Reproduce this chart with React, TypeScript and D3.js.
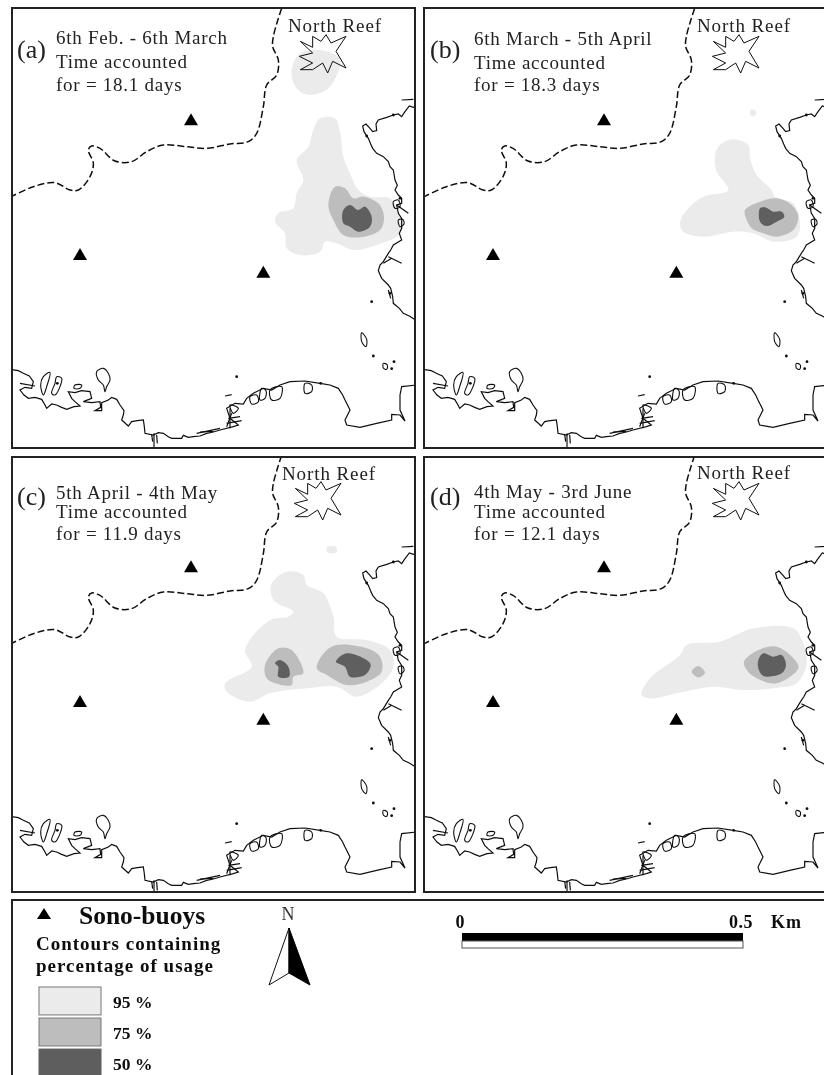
import React, { useEffect, useRef } from 'react';
import * as d3 from 'd3';

type Pt = [number, number];

// map outlines, in map units (3 units = 1 px in panel a)
const boundary: Pt[] = [[845,25],[832,65],[820,110],[818,140],[835,180],[830,225],[800,255],[790,320],[770,400],[745,425],[690,432],[620,445],[560,440],[490,435],[440,455],[395,485],[345,483],[300,445],[275,438],[265,450],[280,490],[270,530],[235,570],[210,570],[165,548],[100,560],[30,592]];
const eastCoast: Pt[] = [[1250,318],[1240,322],[1228,318],[1215,335],[1205,350],[1195,342],[1180,345],[1160,352],[1135,360],[1128,372],[1130,392],[1118,395],[1110,385],[1098,372],[1088,378],[1092,395],[1105,415],[1112,432],[1118,445],[1130,460],[1150,470],[1165,485],[1170,500],[1180,510],[1185,540],[1192,556],[1185,570],[1195,585],[1205,595],[1205,610],[1190,615],[1195,640],[1205,655],[1205,685],[1198,700],[1205,720],[1180,735],[1172,750],[1165,760],[1150,785],[1140,795],[1135,812],[1145,835],[1165,855],[1172,865],[1178,890],[1180,910],[1198,925],[1210,940],[1228,948],[1250,962]];
const southCoast: Pt[] = [[30,1108],[55,1112],[70,1120],[88,1128],[100,1145],[95,1165],[75,1162],[60,1170],[72,1185],[85,1195],[105,1192],[125,1198],[135,1215],[140,1225],[155,1212],[170,1215],[185,1222],[200,1228],[222,1220],[240,1218],[225,1205],[215,1195],[205,1175],[225,1178],[245,1172],[270,1175],[275,1195],[250,1205],[275,1208],[300,1205],[302,1222],[285,1232],[305,1232],[305,1208],[325,1200],[335,1192],[350,1198],[360,1215],[372,1232],[370,1245],[365,1260],[385,1278],[395,1265],[412,1262],[430,1260],[433,1280],[435,1300],[460,1305],[475,1298],[490,1300],[505,1310],[515,1315],[545,1315],[550,1306],[565,1312],[580,1310],[600,1308],[620,1300],[640,1296],[660,1290],[700,1280],[715,1275],[690,1255],[680,1225],[705,1210],[730,1212],[740,1195],[760,1180],[790,1165],[815,1170],[840,1155],[870,1145],[915,1143],[960,1150],[990,1155],[1015,1165],[1028,1185],[1035,1200],[1050,1230],[1035,1260],[1040,1275],[1080,1282],[1130,1270],[1175,1260],[1175,1243],[1200,1245],[1215,1263],[1200,1230],[1200,1185],[1205,1160],[1250,1155]];
const islands: Pt[][] = [
  [[290,1115],[310,1105],[325,1120],[330,1140],[320,1160],[315,1175],[310,1155],[295,1140]],
  [[150,1117],[130,1130],[122,1155],[130,1185],[140,1160]],
  [[170,1130],[185,1135],[180,1160],[165,1185],[155,1180],[165,1150]],
  [[1085,998],[1100,1018],[1098,1040],[1085,1025]],
  [[1150,1090],[1162,1095],[1160,1108],[1150,1104]],
  [[750,1190],[770,1185],[775,1205],[755,1212]],
  [[785,1165],[798,1172],[795,1195],[780,1200]],
  [[810,1170],[845,1160],[840,1195],[815,1200]],
  [[915,1150],[935,1155],[935,1175],[915,1180]],
  [[690,1215],[715,1225],[700,1240]],
  [[1195,660],[1208,658],[1212,672],[1200,680]],
  [[1180,605],[1195,600],[1200,620],[1185,625]],
  [[225,1155],[245,1155],[240,1165],[222,1165]],
];
const specks: Pt[] = [[1115,905],[1120,1068],[1175,1106],[1182,1085],[710,1130],[1100,408],[1180,345],[1170,880],[1200,595],[172,1150],[962,1150]];
const spurs: Pt[][] = [
  [[462,1300],[462,1345]],[[470,1305],[472,1330]],[[455,1303],[458,1325]],
  [[690,1225],[690,1285]],[[680,1270],[725,1262]],[[685,1255],[720,1250]],[[695,1240],[680,1280]],
  [[675,1188],[695,1184]],[[1205,300],[1240,298]],[[1165,870],[1172,895]],
  [[1190,615],[1225,640]],[[1165,770],[1205,790]],[[1150,790],[1175,775]],
  [[590,1300],[660,1285]],[[600,1296],[640,1294]],[[60,1150],[105,1158]],
];
const reefStar: Pt[] = [[901,124],[938,142],[938,109],[963,124],[978,104],[993,129],[1038,109],[1008,154],[1038,204],[998,184],[983,219],[968,189],[938,209],[901,209],[938,189],[898,169],[938,159]];
const buoys: Pt[] = [[573,358],[240,762],[790,815]];

// usage contours for each period, in map units
const contoursA = {
  c95: [
    [[960,355],[1005,355],[1020,395],[1030,470],[1050,520],[1075,570],[1110,590],[1170,595],[1195,640],[1200,700],[1130,735],[1060,750],[1010,730],[975,725],[960,755],[900,765],[860,745],[855,700],[825,665],[835,640],[880,625],[890,580],[910,540],[890,480],[925,440],[940,390]],
    [[880,190],[900,160],[960,150],[1020,175],[1020,200],[985,265],[930,285],[895,270],[875,230]],
  ] as Pt[][],
  c75: [[[1005,560],[1035,565],[1060,595],[1090,590],[1135,610],[1152,650],[1140,690],[1080,712],[1030,705],[1000,660],[985,615]]] as Pt[][],
  c50: [[[1030,630],[1050,615],[1075,630],[1095,620],[1115,650],[1110,680],[1075,695],[1050,680],[1030,670]]] as Pt[][],
};
const contoursB = {
  c95: [
    [[916,440],[956,418],[1006,435],[1011,475],[1031,525],[1076,570],[1086,590],[1141,610],[1161,670],[1151,710],[1081,725],[1021,700],[961,695],[871,710],[811,695],[801,670],[821,630],[871,590],[946,570],[911,515],[906,470]],
    [[1012,330],[1026,330],[1028,345],[1014,347]],
  ] as Pt[][],
  c75: [[[996,630],[1041,605],[1091,595],[1136,615],[1156,650],[1141,690],[1091,710],[1051,700],[1016,685],[999,655]]] as Pt[][],
  c50: [[[1041,625],[1056,622],[1081,635],[1106,635],[1114,650],[1091,665],[1061,678],[1041,665]]] as Pt[][],
};
const contoursC = {
  c95: [
    [[815,409],[860,374],[910,384],[920,414],[970,439],[1000,509],[1010,569],[1100,579],[1170,609],[1180,659],[1145,709],[1070,749],[1010,719],[920,724],[810,739],[750,764],[680,734],[675,709],[755,659],[735,609],[810,519],[865,509],[880,494],[820,459]],
    [[982,300],[1008,300],[1010,316],[982,316]],
  ] as Pt[][],
  c75: [
    [[795,654],[835,604],[875,609],[910,679],[880,689],[875,714],[825,709],[800,694]],
    [[950,664],[975,614],[1010,594],[1100,604],[1140,629],[1145,674],[1100,704],[1040,714],[980,684]],
  ] as Pt[][],
  c50: [
    [[825,649],[840,639],[865,659],[867,689],[835,689],[835,659]],
    [[1008,644],[1040,619],[1100,639],[1112,654],[1095,684],[1050,689],[1035,659]],
  ] as Pt[][],
};
const contoursD = {
  c95: [[[686,744],[711,694],[801,624],[821,594],[921,584],[1021,544],[1141,544],[1171,589],[1181,649],[1151,709],[1081,724],[991,729],[901,719],[811,734],[711,754]]] as Pt[][],
  c75: [
    [[993,644],[1036,609],[1091,599],[1146,639],[1156,664],[1091,709],[1031,694],[1001,669]],
    [[836,674],[856,657],[876,677],[856,691]],
  ] as Pt[][],
  c50: [[[1036,639],[1051,619],[1081,629],[1106,624],[1119,654],[1106,679],[1051,687],[1036,664]]] as Pt[][],
};

const panelLetters = ['(a)', '(b)', '(c)', '(d)'];
const panelPeriods = ['6th Feb. - 6th March', '6th March - 5th April', '5th April - 4th May', '4th May - 3rd June'];
const panelDays = ['for = 18.1 days', 'for = 18.3 days', 'for = 11.9 days', 'for = 12.1 days'];
const panelContours = [contoursA, contoursB, contoursC, contoursD];

const legendLevels = ['95 %', '75 %', '50 %'];
const levelFill = d3.scaleOrdinal<string>().domain(['c95', 'c75', 'c50']).range(['#ebebeb', '#bdbdbd', '#5e5e5e']);
const scaleKm = [0, 0.5];

const App = () => {
  const svgRef = useRef<SVGSVGElement>(null);

  useEffect(() => {
    const svg = d3.select(svgRef.current);
    svg.selectAll('*').remove();
    const serif = '"Liberation Serif", serif';

    const xMap = d3.scaleLinear().domain([0, 1260]).range([0, 420]);
    const yMap = d3.scaleLinear().domain([0, 1350]).range([0, 450]);
    const open = d3.line<Pt>().x((d) => xMap(d[0])).y((d) => yMap(d[1])).curve(d3.curveLinear);
    const wavy = d3.line<Pt>().x((d) => xMap(d[0])).y((d) => yMap(d[1])).curve(d3.curveCatmullRom);
    const closed = d3.line<Pt>().x((d) => xMap(d[0])).y((d) => yMap(d[1])).curve(d3.curveCatmullRomClosed);

    const defs = svg.append('defs');
    defs.append('filter').attr('id', 'soft')
      .append('feGaussianBlur').attr('stdDeviation', 0.45);
    defs.append('filter').attr('id', 'softText')
      .append('feGaussianBlur').attr('stdDeviation', 0.3);

    // panel offsets relative to panel (a)
    const dx = [0, 413, 0, 413];
    const dy = [0, 0, 447, 447];
    const frameX = [12, 424, 12, 424];
    const frameY = [8, 8, 457, 457];
    const frameW = [403, 410, 403, 410];
    const frameH = [440, 440, 435, 435];
    const letterX = [17, 430, 17, 430];
    const letterY = [58, 58, 505, 505];
    const textX = [56, 474, 56, 474];
    const lineY = [[44, 68, 91], [45, 69, 91], [499, 518, 540], [498, 518, 540]];
    const reefX = [288, 697, 282, 697];
    const reefY = [32, 32, 480, 479];
    const starDx = [0, 0, -5, 0];

    panelLetters.forEach((letter, i) => {
      const id = `clip${i}`;
      defs.append('clipPath').attr('id', id).append('rect')
        .attr('x', frameX[i]).attr('y', frameY[i]).attr('width', frameW[i]).attr('height', frameH[i]);
      const root = svg.append('g').attr('clip-path', `url(#${id})`);
      const map = root.append('g').attr('transform', `translate(${dx[i]},${dy[i]})`).attr('filter', 'url(#soft)');

      const levels = panelContours[i] as Record<string, Pt[][]>;
      ['c95', 'c75', 'c50'].forEach((level) => {
        map.append('g').selectAll('path').data(levels[level]).enter().append('path')
          .attr('d', (d) => closed(d))
          .attr('fill', levelFill(level));
      });

      map.append('path').datum(boundary).attr('d', (d) => wavy(d))
        .attr('fill', 'none').attr('stroke', '#111').attr('stroke-width', 1.5).attr('stroke-dasharray', '7 3');

      [eastCoast, southCoast].forEach((coast) => {
        map.append('path').datum(coast).attr('d', (d) => open(d))
          .attr('fill', 'none').attr('stroke', '#111').attr('stroke-width', 1.2);
      });
      map.append('g').selectAll('path').data(islands).enter().append('path')
        .attr('d', (d) => closed(d)).attr('fill', 'none').attr('stroke', '#111').attr('stroke-width', 1.1);
      map.append('g').selectAll('path').data(spurs).enter().append('path')
        .attr('d', (d) => open(d)).attr('fill', 'none').attr('stroke', '#111').attr('stroke-width', 1.2);
      map.append('g').selectAll('circle').data(specks).enter().append('circle')
        .attr('cx', (d) => xMap(d[0])).attr('cy', (d) => yMap(d[1])).attr('r', 1.4).attr('fill', '#111');

      map.append('path').datum(reefStar)
        .attr('transform', `translate(${starDx[i]},0)`)
        .attr('d', (d) => open(d) + 'Z')
        .attr('fill', 'none').attr('stroke', '#111').attr('stroke-width', 1);

      map.append('g').selectAll('path').data(buoys).enter().append('path')
        .attr('transform', (d) => `translate(${xMap(d[0])},${yMap(d[1])})`)
        .attr('d', 'M-7,6L0,-6L7,6Z').attr('fill', '#000');

      const text = root.append('g').attr('font-family', serif).attr('fill', '#222').attr('filter', 'url(#softText)');
      text.append('text').attr('x', letterX[i]).attr('y', letterY[i]).attr('font-size', 26).text(letter);
      [panelPeriods[i], 'Time accounted', panelDays[i]].forEach((line, k) => {
        text.append('text').attr('x', textX[i]).attr('y', lineY[i][k])
          .attr('font-size', 19).attr('letter-spacing', 0.75).text(line);
      });
      text.append('text').attr('x', reefX[i]).attr('y', reefY[i])
        .attr('font-size', 19).attr('letter-spacing', 0.9).text('North Reef');

      svg.append('rect').attr('x', frameX[i]).attr('y', frameY[i]).attr('width', frameW[i]).attr('height', frameH[i])
        .attr('fill', 'none').attr('stroke', '#222').attr('stroke-width', 2);
    });

    // legend box
    const legend = svg.append('g').attr('font-family', serif).attr('fill', '#111');
    legend.append('rect').attr('x', 12).attr('y', 900).attr('width', 830).attr('height', 200)
      .attr('fill', 'none').attr('stroke', '#222').attr('stroke-width', 2);
    legend.append('path').attr('d', 'M37,919L44,908L51,919Z').attr('fill', '#000');

    const labels = legend.append('g').attr('filter', 'url(#softText)');
    labels.append('text').attr('x', 79).attr('y', 924).attr('font-size', 25.5).attr('font-weight', 'bold').text('Sono-buoys');
    labels.append('text').attr('x', 36).attr('y', 950).attr('font-size', 19).attr('letter-spacing', 1).attr('font-weight', 'bold').text('Contours containing');
    labels.append('text').attr('x', 36).attr('y', 972).attr('font-size', 19).attr('letter-spacing', 1).attr('font-weight', 'bold').text('percentage of usage');

    const ySwatch = d3.scaleBand().domain(legendLevels).range([987, 1077]).paddingInner(0.1);
    legend.append('g').selectAll('rect').data(legendLevels).enter().append('rect')
      .attr('x', 39).attr('y', (d) => ySwatch(d)!).attr('width', 62).attr('height', ySwatch.bandwidth())
      .attr('fill', (d, i) => levelFill(['c95', 'c75', 'c50'][i]))
      .attr('stroke', (d, i) => (i === 2 ? '#5e5e5e' : '#777')).attr('stroke-width', 1);
    labels.append('g').selectAll('text').data(legendLevels).enter().append('text')
      .attr('x', 113).attr('y', (d) => ySwatch(d)! + 21)
      .attr('font-size', 17.5).attr('font-weight', 'bold').text((d) => d);

    // north arrow
    labels.append('text').attr('x', 288).attr('y', 920).attr('text-anchor', 'middle').attr('font-size', 18).attr('fill', '#333').text('N');
    legend.append('path').attr('d', 'M289,928L269,985L289,973Z').attr('fill', '#fff').attr('stroke', '#111').attr('stroke-width', 1);
    legend.append('path').attr('d', 'M289,928L310,985L289,973Z').attr('fill', '#000').attr('stroke', '#000').attr('stroke-width', 1);

    // scale bar
    const xKm = d3.scaleLinear().domain(scaleKm).range([462, 743]);
    legend.append('rect').attr('x', xKm(0)).attr('y', 933).attr('width', xKm(0.5) - xKm(0)).attr('height', 8).attr('fill', '#000');
    legend.append('rect').attr('x', xKm(0)).attr('y', 941).attr('width', xKm(0.5) - xKm(0)).attr('height', 7)
      .attr('fill', '#fff').attr('stroke', '#555').attr('stroke-width', 1);
    labels.append('text').attr('x', xKm(0) - 2).attr('y', 928).attr('text-anchor', 'middle').attr('font-size', 18).attr('font-weight', 'bold').text('0');
    labels.append('text').attr('x', xKm(0.5) - 2).attr('y', 928).attr('text-anchor', 'middle').attr('font-size', 18).attr('letter-spacing', 0.5).attr('font-weight', 'bold').text('0.5');
    labels.append('text').attr('x', 771).attr('y', 928).attr('font-size', 18).attr('letter-spacing', 1).attr('font-weight', 'bold').text('Km');
  }, []);

  return (
    <svg
      ref={svgRef}
      width={824}
      height={1075}
      style={{ position: 'absolute', left: 0, top: 0, background: '#fff' }}
    />
  );
};

export default App;
